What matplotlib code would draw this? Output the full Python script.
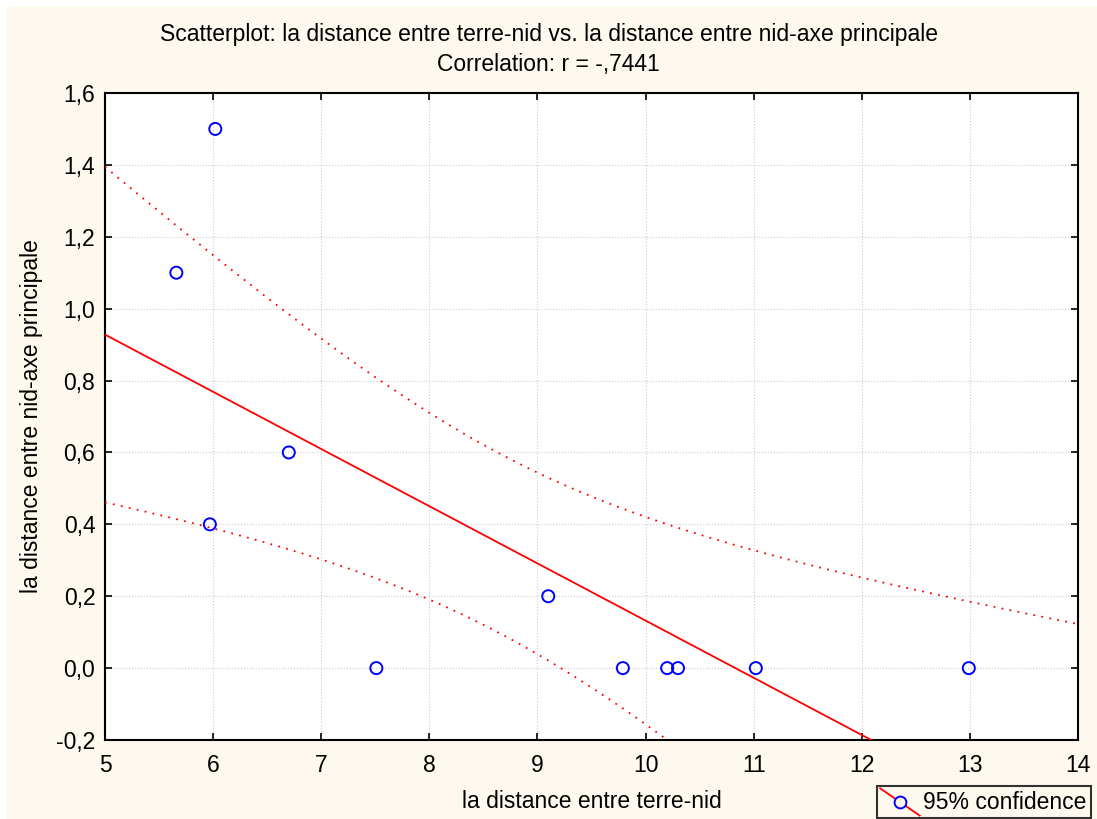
import numpy as np
import matplotlib
matplotlib.use("Agg")
import matplotlib.pyplot as plt
from matplotlib.ticker import FuncFormatter, MultipleLocator
from matplotlib.legend_handler import HandlerBase
from matplotlib.lines import Line2D
from matplotlib.patches import Rectangle

# Data
terre_nid = [5.66, 6.02, 5.97, 6.70, 7.51, 9.10, 9.79, 10.20, 10.30, 11.02, 12.99]
nid_axe = [1.10, 1.50, 0.40, 0.60, 0.00, 0.20, 0.00, 0.00, 0.00, 0.00, 0.00]
title_lines = ["Scatterplot: la distance entre terre-nid vs. la distance entre nid-axe principale",
               "Correlation: r = -,7441"]
xlabel = "la distance entre terre-nid"
ylabel = "la distance entre nid-axe principale"
legend_label = "95% confidence"
t_975_9 = 2.262

plt.rcParams['font.family'] = ['Liberation Sans', 'DejaVu Sans']
FS = 16.5

x = np.array(terre_nid)
y = np.array(nid_axe)
n = len(x)
xm, ym = x.mean(), y.mean()
sxx = ((x - xm) ** 2).sum()
slope = ((x - xm) * (y - ym)).sum() / sxx
icpt = ym - slope * xm
resid = y - (icpt + slope * x)
s = np.sqrt((resid ** 2).sum() / (n - 2))

xs = np.linspace(5, 14, 300)
fit = icpt + slope * xs
half = t_975_9 * s * np.sqrt(1 / n + (xs - xm) ** 2 / sxx)

fig = plt.figure(figsize=(10.97, 8.19), dpi=100)
fig.patch.set_facecolor('white')
fig.patches.append(Rectangle((7 / 1097, 0), 1, 1 - 6 / 819, transform=fig.transFigure,
                             facecolor='#fdf9ee', edgecolor='none', zorder=-10))

ax = fig.add_axes([105 / 1097, 1 - 740 / 819, (1078 - 105) / 1097, (740 - 93) / 819])
ax.set_facecolor('white')
ax.set_xlim(5, 14)
ax.set_ylim(-0.2, 1.6)
ax.xaxis.set_major_locator(MultipleLocator(1))
ax.yaxis.set_major_locator(MultipleLocator(0.2))
ax.yaxis.set_major_formatter(FuncFormatter(lambda v, p: f"{v:.1f}".replace('.', ',').replace('-0,0', '0,0')))
ax.xaxis.set_major_formatter(FuncFormatter(lambda v, p: f"{int(round(v))}"))
ax.grid(True, color='#cccccc', linestyle=':', linewidth=0.8)
ax.set_axisbelow(True)
ax.tick_params(direction='in', length=5, width=1.2, top=True, right=True,
               labelsize=FS, colors='black', pad=7)
ax.tick_params(axis='x', pad=10)
for sp in ax.spines.values():
    sp.set_linewidth(1.5)

ax.plot(xs, fit, color='#ff0000', linewidth=1.3, zorder=3)
ax.plot(xs, fit + half, color='#ff0000', linestyle=(0, (1, 3.5)), linewidth=1.3, zorder=3)
ax.plot(xs, fit - half, color='#ff0000', linestyle=(0, (1, 3.5)), linewidth=1.3, zorder=3)
ax.scatter(x, y, s=75, facecolors='none', edgecolors='#0000ff', linewidths=1.4, zorder=4,
           clip_on=False)

fig.text(0.5, 1 - 35 / 819, title_lines[0], ha='center', va='center', fontsize=16.5)
fig.text(0.5, 1 - 65 / 819, title_lines[1], ha='center', va='center', fontsize=16.5)
fig.text(592 / 1097, 1 - 802 / 819, xlabel, ha='center', va='center', fontsize=FS)
fig.text(32 / 1097, 1 - 416 / 819, ylabel, ha='center', va='center', fontsize=FS, rotation=90)


class DiagHandler(HandlerBase):
    def create_artists(self, legend, orig_handle, xdescent, ydescent, width, height, fontsize, trans):
        l = Line2D([-xdescent - 1, -xdescent + width + 1], [height + 3, -5], color='#ff0000',
                   linewidth=1.3, transform=trans)
        m = Line2D([-xdescent + width / 2], [height / 2 - 1], marker='o', markersize=8.5,
                   markerfacecolor='#fdf9ee', markeredgecolor='#0000ff', markeredgewidth=1.4,
                   linestyle='none', transform=trans)
        return [l, m]


handle = Line2D([], [])
leg = fig.legend([handle], [legend_label], handler_map={Line2D: DiagHandler()},
                 loc='upper left', bbox_to_anchor=(877 / 1097, 1 - 786 / 819), frameon=True,
                 fancybox=False, fontsize=FS, handlelength=1.6, handletextpad=0.2,
                 borderpad=0.2, borderaxespad=0)
leg.get_frame().set_edgecolor('black')
leg.get_frame().set_linewidth(1.5)
leg.get_frame().set_facecolor('#fdf9ee')

fig.savefig('out.png', dpi=100, facecolor=fig.get_facecolor())
